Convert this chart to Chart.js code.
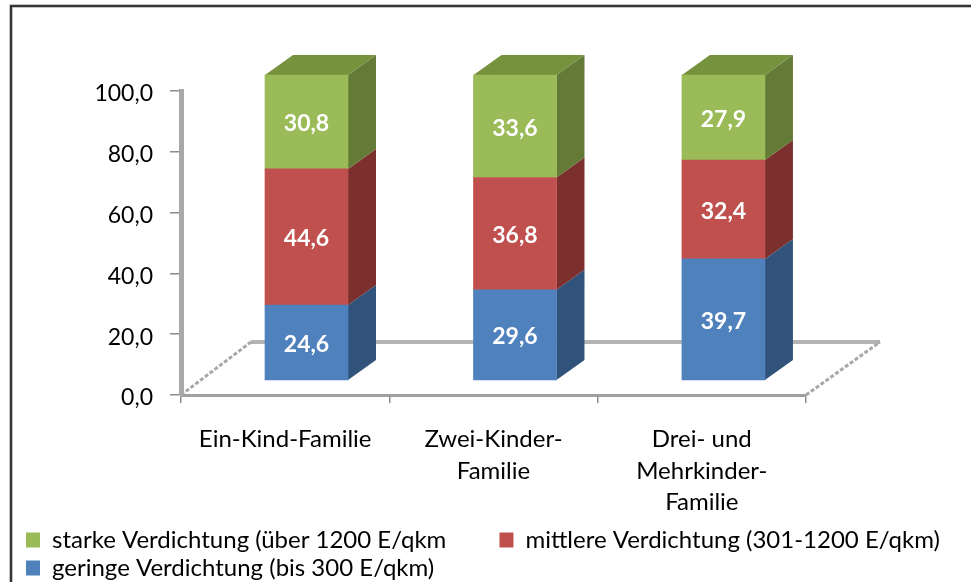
<!DOCTYPE html>
<html>
<head>
<meta charset="utf-8">
<style>html,body{margin:0;padding:0;background:#fff}canvas{display:block}</style>
<script src="https://cdn.jsdelivr.net/npm/chart.js@4"></script>
</head>
<body>
<canvas id="c" width="971" height="582"></canvas>
<script>
const categories = [["Ein-Kind-Familie"], ["Zwei-Kinder-", "Familie"], ["Drei- und", "Mehrkinder-", "Familie"]];
const gering = [24.6, 29.6, 39.7];
const mittel = [44.6, 36.8, 32.4];
const stark = [30.8, 33.6, 27.9];
const seriesNames = ["geringe Verdichtung (bis 300 E/qkm)", "mittlere Verdichtung (301-1200 E/qkm)", "starke Verdichtung (über 1200 E/qkm"];
const frontColors = ["#4f81bd", "#c0504d", "#9bbb59"];
const sideColors = ["#31527b", "#7b302e", "#647a37"];
const topColor = "#76923c";
const FONT = "Lato";
const DEPTH_X = 28, DEPTH_Y = 20;
const points = v => v.map((y, x) => ({x, y}));

const decor = {
  id: "decor",
  beforeDraw(chart) {
    const c = chart.ctx;
    c.save();
    c.beginPath(); c.moveTo(11, 582); c.lineTo(11, 6); c.lineTo(971, 6);
    c.strokeStyle = "#8a8a8a"; c.lineWidth = 3; c.stroke();
    c.strokeStyle = "#1a1a1a"; c.lineWidth = 1.5; c.stroke();
    c.restore();
  },
  beforeDatasetsDraw(chart) {
    const c = chart.ctx, a = chart.chartArea;
    const bx = a.left + 70, by = a.bottom - 53, rx = a.right + 74;
    c.save();
    c.strokeStyle = "#b4b4b4"; c.lineWidth = 4;
    c.beginPath(); c.moveTo(bx, by); c.lineTo(rx, by); c.stroke();
    c.strokeStyle = "#a8a8a8"; c.lineWidth = 3; c.setLineDash([4, 2]);
    c.beginPath(); c.moveTo(a.left, a.bottom); c.lineTo(bx, by);
    c.moveTo(a.right, a.bottom); c.lineTo(rx, by); c.stroke();
    c.restore();
    // 3-D faces of the bars, taken from the bar elements
    chart.data.datasets.forEach((d, i) => {
      chart.getDatasetMeta(i).data.forEach(b => {
        const r = b.x + b.width / 2, l = b.x - b.width / 2;
        c.fillStyle = sideColors[i];
        c.beginPath(); c.moveTo(r, b.base); c.lineTo(r + DEPTH_X, b.base - DEPTH_Y);
        c.lineTo(r + DEPTH_X, b.y - DEPTH_Y); c.lineTo(r, b.y); c.closePath(); c.fill();
        if (i === chart.data.datasets.length - 1) {
          c.fillStyle = topColor;
          c.beginPath(); c.moveTo(l, b.y); c.lineTo(l + DEPTH_X, b.y - DEPTH_Y);
          c.lineTo(r + DEPTH_X, b.y - DEPTH_Y); c.lineTo(r, b.y); c.closePath(); c.fill();
        }
      });
    });
  },
  afterDatasetsDraw(chart) {
    const c = chart.ctx;
    c.save();
    c.fillStyle = "#fff"; c.font = "bold 23px " + FONT; c.textAlign = "center"; c.textBaseline = "middle";
    chart.data.datasets.forEach((d, i) => {
      chart.getDatasetMeta(i).data.forEach((b, j) => {
        c.fillText(d.data[j].y.toFixed(1).replace(".", ","), b.x, (b.y + b.base) / 2 + 2);
      });
    });
    c.restore();
  }
};

new Chart(document.getElementById("c"), {
  type: "bar",
  plugins: [decor],
  data: {
    labels: categories,
    datasets: [gering, mittel, stark].map((v, i) => ({
      label: seriesNames[i], data: points(v), backgroundColor: frontColors[i],
      xAxisID: "x2", yAxisID: "y2", barThickness: 83, clip: false, borderWidth: 0
    }))
  },
  options: {
    responsive: false, animation: false,
    layout: {padding: {left: 22, right: 0, top: 91, bottom: -8}},
    plugins: {
      tooltip: {enabled: false},
      legend: {
        position: "bottom", align: "start", reverse: true,
        labels: {
          boxWidth: 14, boxHeight: 15, padding: 4, color: "#000",
          font: {family: FONT, size: 24},
          generateLabels(chart) {
            const items = Chart.defaults.plugins.legend.labels.generateLabels(chart);
            items[2].text += "\u00a0".repeat(8);
            return items;
          }
        }
      }
    },
    scales: {
      x: {
        type: "category", position: "bottom", offset: true,
        afterFit: s => { s.height = 129; },
        grid: {offset: true, drawOnChartArea: false, tickLength: 8, tickColor: "#8c8c8c", lineWidth: 1.5},
        border: {color: "#a0a0a0", width: 3},
        ticks: {autoSkip: false, maxRotation: 0, minRotation: 0, padding: 21, color: "#000", font: {family: FONT, size: 24, lineHeight: 1.3}}
      },
      x2: {type: "linear", display: false, offset: false, stacked: true, min: -0.602, max: 2.396, grid: {display: false}},
      y: {
        type: "linear", position: "left", min: 0, max: 100,
        afterFit: s => { s.width = 159; },
        grid: {drawOnChartArea: false, tickLength: 11, tickColor: "#8c8c8c", lineWidth: 1.5},
        border: {color: "#a8a8a8", width: 5},
        ticks: {stepSize: 20, padding: 17, labelOffset: 3, color: "#000", font: {family: FONT, size: 23},
          callback: v => v.toFixed(1).replace(".", ",")}
      },
      y2: {
        type: "linear", position: "right", stacked: true, min: -4.918, max: 94.75,
        afterFit: s => { s.width = 165; },
        grid: {display: false}, border: {display: false}, ticks: {display: false}
      }
    }
  }
});
</script>
</body>
</html>
